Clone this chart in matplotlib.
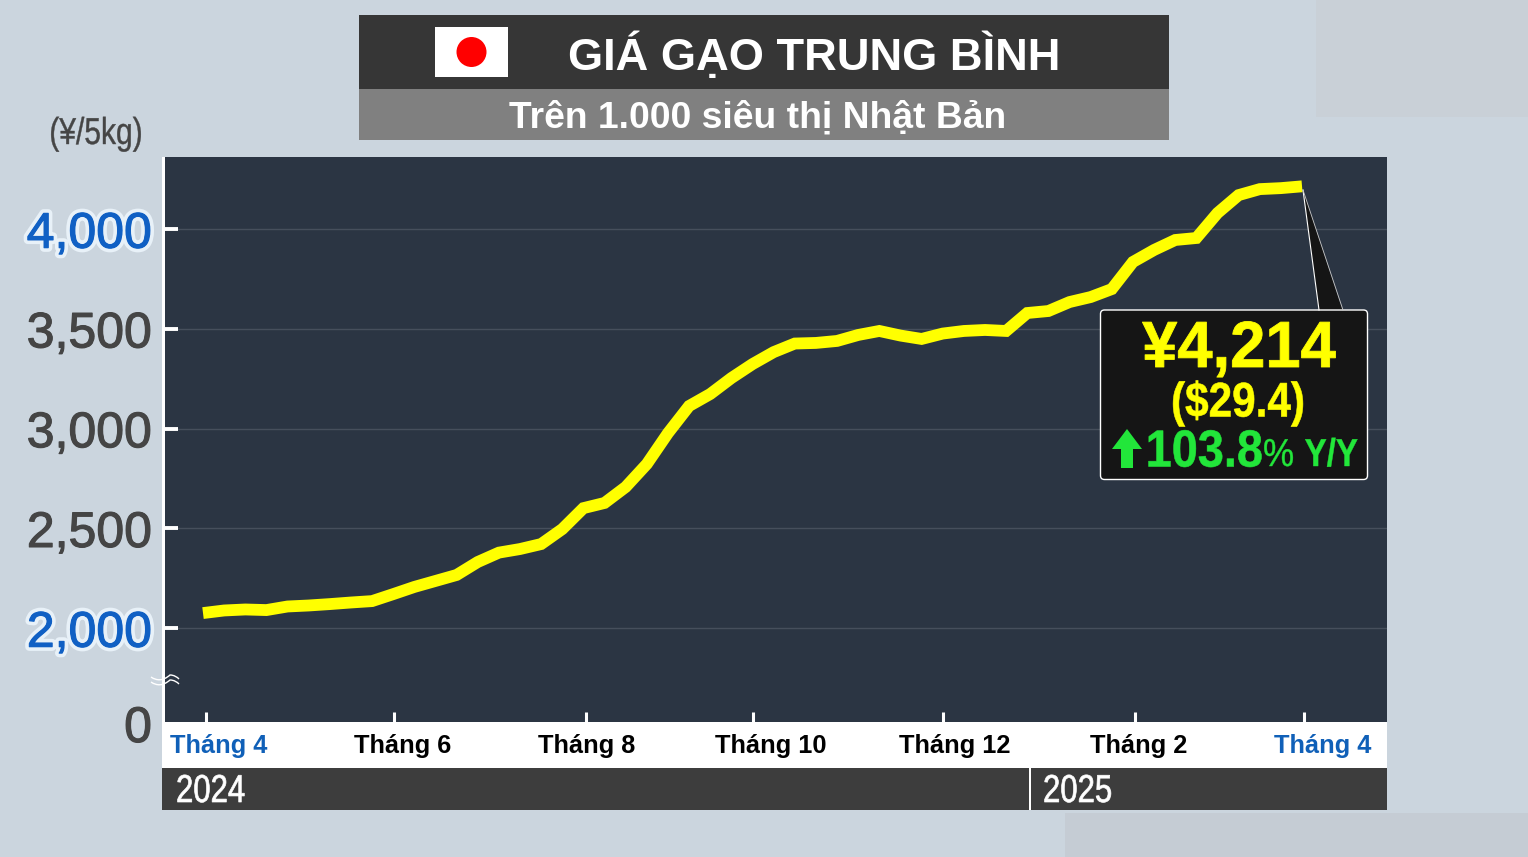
import matplotlib
matplotlib.use("Agg")
import matplotlib.pyplot as plt
import matplotlib.patheffects as pe
from matplotlib.patches import Rectangle, Circle, Polygon, FancyBboxPatch, PathPatch
from matplotlib.path import Path
from matplotlib.transforms import Affine2D, ScaledTranslation

# weekly average price, yen per 5 kg
prices = [2075, 2088, 2093, 2090, 2108, 2113, 2120, 2128, 2135, 2170, 2206, 2236,
          2266, 2331, 2378, 2396, 2421, 2496, 2601, 2627, 2707, 2822, 2977, 3113,
          3173, 3253, 3323, 3383, 3426, 3429, 3439, 3469, 3489, 3466, 3449, 3476,
          3489, 3494, 3489, 3579, 3589, 3634, 3659, 3699, 3835, 3895, 3945, 3955,
          4080, 4170, 4200, 4205, 4214]
weeks = list(range(len(prices)))

month_weeks = [0.14, 9.04, 18.12, 26.02, 35.01, 44.1, 52.09]
month_labels = ["Tháng 4", "Tháng 6", "Tháng 8", "Tháng 10", "Tháng 12", "Tháng 2", "Tháng 4"]
y_ticks = [2000, 2500, 3000, 3500, 4000]
y_labels = ["2,000", "2,500", "3,000", "3,500", "4,000"]

W, H = 1528, 857
BG = "#cbd5de"
PANEL = "#2b3543"
DARK = "#3d3d3d"
GREY = "#454545"
BLUE = "#1060c4"
YELLOW = "#ffff00"
GREEN = "#22e63a"

plt.rcParams["font.family"] = ["Liberation Sans", "DejaVu Sans"]


class Squeeze(pe.AbstractPathEffect):
    """Narrow a text horizontally around its anchor (no condensed font installed)."""

    def __init__(self, sx, x0, fatten=0.0):
        super().__init__()
        self.sx, self.x0, self.fatten = sx, x0, fatten

    def draw_path(self, renderer, gc, tpath, affine, rgbFace=None):
        narrow = affine + Affine2D().translate(-self.x0, 0).scale(self.sx, 1).translate(self.x0, 0)
        gc0 = renderer.new_gc()
        gc0.copy_properties(gc)
        if self.fatten and rgbFace is not None:
            gc0.set_foreground(rgbFace[:3])
            gc0.set_linewidth(self.fatten)
        renderer.draw_path(gc0, tpath, narrow, rgbFace)
        gc0.restore()


def px_axes(fig, z):
    ax = fig.add_axes([0, 0, 1, 1], zorder=z)
    ax.set_xlim(0, W)
    ax.set_ylim(H, 0)
    ax.axis("off")
    return ax


def narrow_text(ax, x, y, s, sx, fatten=0.0, **kw):
    return ax.text(x, y, s, va="center", path_effects=[Squeeze(sx, x, fatten)], **kw)


fig = plt.figure(figsize=(W / 100, H / 100), dpi=100, facecolor=BG)

# ── background patches ───────────────────────────────────
bg = px_axes(fig, 0)
bg.add_patch(Rectangle((1316, 0), 212, 117, fc="#c9d0d7", ec="none"))
bg.add_patch(Rectangle((1065, 813), 463, 44, fc="#c5ccd4", ec="none"))

# ── main chart ───────────────────────────────────────────
ax = fig.add_axes([165 / W, 1 - 722 / H, (1387 - 165) / W, (722 - 157) / H], zorder=1)
ax.set_facecolor(PANEL)
ax.set_xlim(-1.798, 56.02)
ax.set_ylim(1529, 4361)
for s in ax.spines.values():
    s.set_visible(False)
ax.yaxis.grid(True, color="#464f5c", linewidth=1)
ax.set_axisbelow(True)
ax.plot(weeks, prices, color=YELLOW, linewidth=8.5, solid_capstyle="butt",
        solid_joinstyle="miter")
ax.set_xticks(month_weeks)
ax.set_xticklabels([])
ax.tick_params(axis="x", direction="in", color="white", width=2.2, length=7.5)
ax.set_yticks(y_ticks)
ax.set_yticklabels(y_labels, fontsize=36, color=GREY)
ax.tick_params(axis="y", direction="in", color="white", width=2.8, length=9.5, pad=9.3)
shift = ScaledTranslation(0, -0.5 / 72, fig.dpi_scale_trans)
for lab, val in zip(ax.get_yticklabels(), y_ticks):
    lab.set_transform(lab.get_transform() + shift)
    if val in (2000, 4000):
        lab.set_color(BLUE)
        lab.set_path_effects([pe.Stroke(linewidth=6, foreground="#e8f1f8"),
                              pe.Stroke(linewidth=0.8, foreground=BLUE), pe.Normal()])
    else:
        lab.set_path_effects([pe.Stroke(linewidth=0.8, foreground=GREY), pe.Normal()])

# ── everything drawn in pixel coordinates ────────────────
top = px_axes(fig, 2)

# title block
top.add_patch(Rectangle((359, 15), 810, 74, fc="#363636", ec="none"))
top.add_patch(Rectangle((359, 89), 810, 51, fc="#808080", ec="none"))
top.add_patch(Rectangle((435, 27), 73, 50, fc="white", ec="none"))
top.add_patch(Circle((471.5, 52), 15, fc="#ff0000", ec="none"))
top.text(814, 55, "GIÁ GẠO TRUNG BÌNH", color="white", fontsize=32.6, fontweight="bold",
         ha="center", va="center")
top.text(757.5, 118, "Trên 1.000 siêu thị Nhật Bản", color="white", fontsize=26.8,
         fontweight="bold", ha="center", va="center")

narrow_text(top, 96, 134, "(¥/5kg)", 0.8, 0.3, color=GREY, fontsize=27, ha="center")

# y axis line, zero label, axis break
top.add_patch(Rectangle((162, 157), 3, 565, fc="white", ec="none"))
top.text(152, 729, "0", color=GREY, fontsize=36, ha="right", va="center",
         path_effects=[pe.Stroke(linewidth=0.8, foreground=GREY), pe.Normal()])
for dy in (0, 5):
    wave = Path([(151, 677 + dy), (157, 681 + dy), (163, 681 + dy), (170, 675 + dy),
                 (174, 675 + dy), (177, 677 + dy), (179, 679 + dy)],
                [Path.MOVETO, Path.CURVE4, Path.CURVE4, Path.CURVE4,
                 Path.CURVE4, Path.CURVE4, Path.CURVE4])
    top.add_patch(PathPatch(wave, fc="none", ec="white", lw=1))

# month strip and year strip
top.add_patch(Rectangle((162, 722), 1225, 46, fc="white", ec="none"))
top.add_patch(Rectangle((162, 768), 1225, 42, fc=DARK, ec="none"))
top.add_patch(Rectangle((1029, 768), 2, 42, fc="white", ec="none"))
month_px = [219, 403, 587, 771, 955, 1139, 1323]
for i, (x, lab) in enumerate(zip(month_px, month_labels)):
    top.text(x, 746, lab, fontsize=18.3, fontweight="bold", ha="center", va="center",
             color="#1060b8" if i in (0, 6) else "black")
narrow_text(top, 176, 792, "2024", 0.8, 0.5, color="white", fontsize=28, ha="left")
narrow_text(top, 1043, 792, "2025", 0.8, 0.5, color="white", fontsize=28, ha="left")

# callout
top.add_patch(Polygon([(1303, 190), (1319, 312), (1343, 312)], closed=True,
                      fc="#151515", ec="none"))
top.plot([1303, 1319], [190, 310], color="white", lw=0.8)
top.plot([1303, 1343], [190, 310], color="#c8c8c8", lw=0.6)
top.add_patch(FancyBboxPatch((1104, 313.5), 260, 162.5, boxstyle="round,pad=3.5,rounding_size=4",
                             fc="#151515", ec="white", lw=1))
narrow_text(top, 1239, 350, "¥4,214", 0.97, 0.6, color=YELLOW, fontsize=47, fontweight="bold",
            ha="center")
narrow_text(top, 1238, 404, "($29.4)", 0.87, 0.4, color=YELLOW, fontsize=35, fontweight="bold",
            ha="center")
top.add_patch(Polygon([(1127, 429), (1142, 449), (1133, 449), (1133, 468), (1121, 468),
                       (1121, 449), (1112, 449)], closed=True, fc=GREEN, ec="none"))
narrow_text(top, 1263, 453, "103.8", 0.9, 0.4, color=GREEN, fontsize=37.5, fontweight="bold",
            ha="right")
narrow_text(top, 1263, 456, "%", 0.9, 0.3, color=GREEN, fontsize=28, ha="left")
narrow_text(top, 1358, 456, "Y/Y", 0.85, 0.3, color=GREEN, fontsize=28, fontweight="bold",
            ha="right")

fig.savefig("out.png", dpi=100, facecolor=fig.get_facecolor())
